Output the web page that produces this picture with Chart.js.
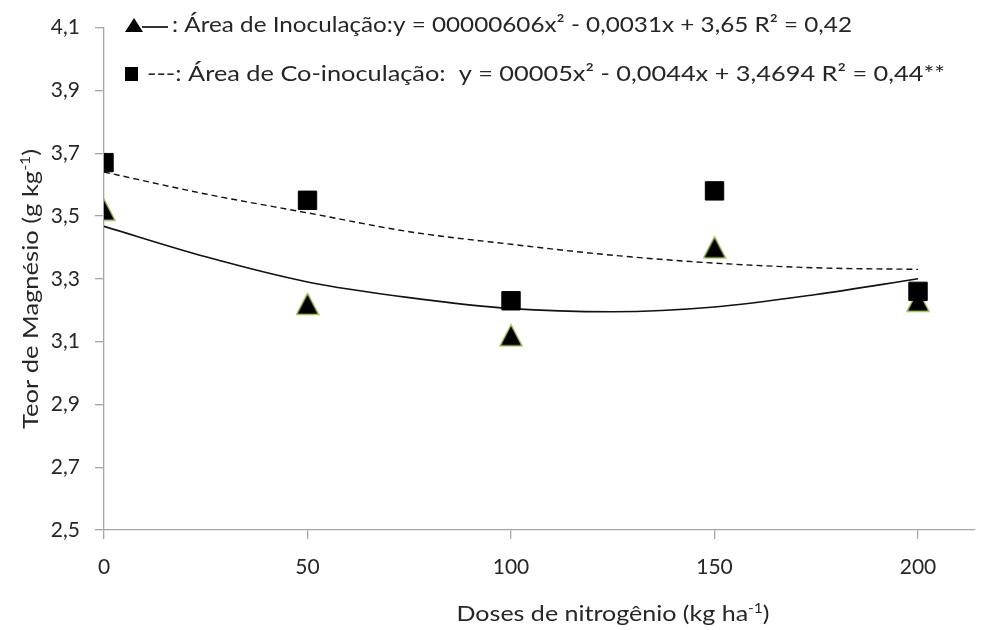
<!DOCTYPE html>
<html><head><meta charset="utf-8">
<script src="https://cdn.jsdelivr.net/npm/chart.js@4/dist/chart.umd.min.js"></script>
<style>html,body{margin:0;padding:0;background:#fff}#wrap{width:989px;height:630px;position:relative}</style>
</head><body><div id="wrap"><canvas id="c" width="989" height="630"></canvas></div>
<script>
const doses = [0, 50, 100, 150, 200];
const inoculacao = [3.52, 3.22, 3.12, 3.40, 3.23];
const coInoculacao = [3.67, 3.55, 3.23, 3.58, 3.26];
const trendDoses = [0, 25, 50, 75, 100, 125, 150, 175, 200];
const trendInoculacao = [3.467, 3.37, 3.29, 3.24, 3.205, 3.195, 3.21, 3.25, 3.30];
const trendCoInoculacao = [3.64, 3.57, 3.51, 3.45, 3.41, 3.375, 3.35, 3.335, 3.33];
const yTicks = [2.5, 2.7, 2.9, 3.1, 3.3, 3.5, 3.7, 3.9, 4.1];
const xTicks = [0, 50, 100, 150, 200];
const legend1 = ': Área de Inoculação:y = 00000606x² - 0,0031x + 3,65 R² = 0,42';
const legend2 = '---: Área de Co-inoculação:  y = 00005x² - 0,0044x + 3,4694 R² = 0,44**';
const yTitle = [['Teor de Magnésio (g kg', false], ['-1', true], [')', false]];
const xTitle = [['Doses de nitrogênio (kg ha', false], ['-1', true], [')', false]];

const FONT = 'Lato';
const AXIS = '#a6a6a6';
const TXT = '#262626';

// Excel-like triangle marker (bounding-box centred)
const tri = document.createElement('canvas');
tri.width = 24; tri.height = 24;
(function () {
  const g = tri.getContext('2d');
  g.beginPath();
  g.moveTo(12, 1.5); g.lineTo(23, 22.5); g.lineTo(1, 22.5); g.closePath();
  g.fillStyle = '#000'; g.fill();
  g.lineWidth = 1.4; g.strokeStyle = '#9bbb59'; g.stroke();
})();

function pts(xs, ys) { return xs.map((x, i) => ({ x: x, y: ys[i] })); }

function drawRich(ctx, segs, fs, targetW) {
  ctx.textBaseline = 'alphabetic';
  ctx.textAlign = 'left';
  let W = 0;
  const parts = segs.map(([t, sup]) => {
    const f = sup ? Math.round(fs * 0.62) : fs;
    ctx.font = f + 'px ' + FONT;
    const w = ctx.measureText(t).width;
    W += w;
    return { t, sup, f, w };
  });
  const sx = targetW / W;
  ctx.save();
  ctx.scale(sx, 1);
  let x = 0;
  parts.forEach(p => {
    ctx.font = p.f + 'px ' + FONT;
    ctx.fillText(p.t, x, p.sup ? -fs * 0.36 : 0);
    x += p.w;
  });
  ctx.restore();
}

const textPlugin = {
  id: 'texts',
  afterDraw(chart) {
    const ctx = chart.ctx;
    ctx.save();
    // legend line 1: triangle + solid line
    ctx.beginPath();
    ctx.moveTo(134, 18); ctx.lineTo(143, 32); ctx.lineTo(125, 32); ctx.closePath();
    ctx.fillStyle = '#000'; ctx.fill();
    ctx.strokeStyle = '#000'; ctx.lineWidth = 1.6;
    ctx.beginPath(); ctx.moveTo(142, 27); ctx.lineTo(168, 27); ctx.stroke();
    ctx.fillStyle = TXT;
    ctx.save(); ctx.translate(172, 32); drawRich(ctx, [[legend1, false]], 22, 680); ctx.restore();
    // legend line 2: square + dashed text
    ctx.fillStyle = '#000';
    ctx.fillRect(125, 67, 13, 14);
    ctx.fillStyle = TXT;
    ctx.save(); ctx.translate(147, 81); drawRich(ctx, [[legend2, false]], 22, 798); ctx.restore();
    // x title
    ctx.save(); ctx.translate(613 - 313 / 2, 621); drawRich(ctx, xTitle, 21, 313); ctx.restore();
    // y title
    ctx.save(); ctx.translate(38, 289); ctx.rotate(-Math.PI / 2); ctx.translate(-140, 0);
    drawRich(ctx, yTitle, 21, 280); ctx.restore();
    ctx.restore();
  }
};

new Chart(document.getElementById('c'), {
  type: 'scatter',
  data: {
    datasets: [
      { label: 'Co-inoculação', data: pts(doses, coInoculacao), order: 0,
        pointStyle: 'rect', pointRadius: 13, backgroundColor: '#000', borderColor: '#000', borderWidth: 1, showLine: false },
      { label: 'Inoculação', data: pts(doses, inoculacao), order: 1,
        pointStyle: tri, pointRadius: 12, showLine: false },
      { label: 'Tend. Co-inoculação', type: 'line', data: pts(trendDoses, trendCoInoculacao), order: 2,
        borderColor: '#111', borderWidth: 1.4, borderDash: [6, 4], pointRadius: 0, fill: false, cubicInterpolationMode: 'monotone' },
      { label: 'Tend. Inoculação', type: 'line', data: pts(trendDoses, trendInoculacao), order: 3,
        borderColor: '#111', borderWidth: 1.6, pointRadius: 0, fill: false, cubicInterpolationMode: 'monotone' }
    ]
  },
  options: {
    responsive: false,
    animation: false,
    events: [],
    layout: { padding: { top: 24, right: 14, left: 0, bottom: 0 } },
    plugins: { legend: { display: false }, tooltip: { enabled: false }, title: { display: false } },
    scales: {
      x: {
        type: 'linear', min: 0, max: 214,
        afterBuildTicks: s => { s.ticks = xTicks.map(v => ({ value: v })); },
        afterFit: s => { s.height = 100; },
        ticks: { color: TXT, font: { family: FONT, size: 21 }, padding: 16, maxRotation: 0, autoSkip: false },
        grid: { drawOnChartArea: false, drawTicks: true, tickLength: 9, color: AXIS, lineWidth: 1.3 },
        border: { color: AXIS, width: 1.3 }
      },
      y: {
        type: 'linear', min: 2.5, max: 4.1,
        afterBuildTicks: s => { s.ticks = yTicks.map(v => ({ value: v })); },
        afterFit: s => { s.width = 104; },
        ticks: { color: TXT, font: { family: FONT, size: 21 }, padding: 15, autoSkip: false,
          callback: v => v.toFixed(1).replace('.', ',') },
        grid: { drawOnChartArea: false, drawTicks: true, tickLength: 9, color: AXIS, lineWidth: 1.3 },
        border: { color: AXIS, width: 1.3 }
      }
    }
  },
  plugins: [textPlugin]
});
</script>
</body></html>
